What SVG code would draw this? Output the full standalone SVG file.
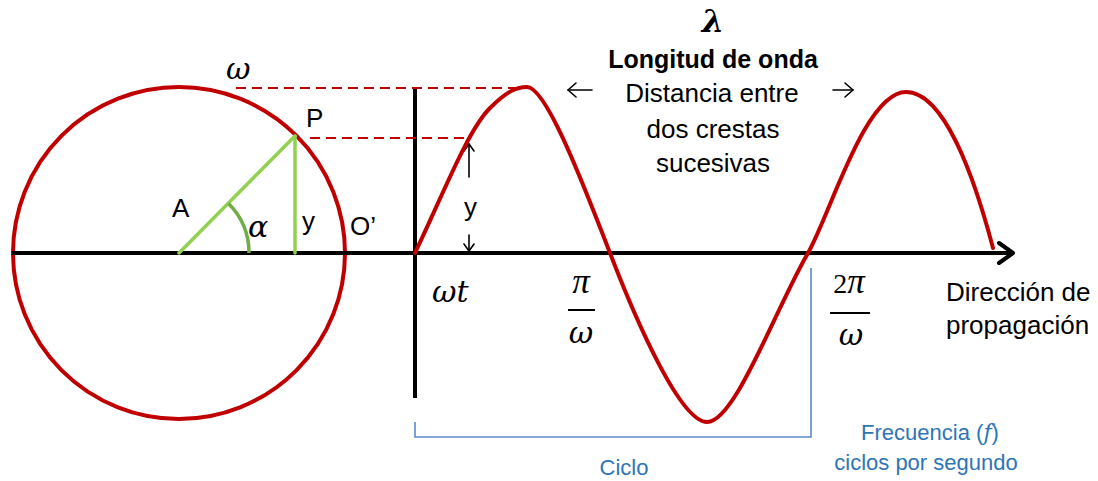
<svg xmlns="http://www.w3.org/2000/svg" width="1098" height="481" viewBox="0 0 1098 481">
<defs>
<style>
.t{font-family:"Liberation Sans",Arial,sans-serif;font-size:26px;fill:#000}
.b{font-family:"Liberation Sans",Arial,sans-serif;font-size:25px;font-weight:bold;fill:#000}
.m{font-family:"DejaVu Serif","Liberation Serif",serif;font-style:italic;font-size:30px;fill:#000}
.pi{font-family:"Liberation Serif",serif;font-style:italic;font-size:35px}
.bl{font-family:"Liberation Sans",Arial,sans-serif;font-size:22px;fill:#2E75B6}
.red{fill:none;stroke:#C00000;stroke-width:4;stroke-linecap:round;stroke-linejoin:round}
.dash{fill:none;stroke:#C00000;stroke-width:2;stroke-dasharray:10 6}
.ax{fill:none;stroke:#000;stroke-width:4}
.thin{fill:none;stroke:#000;stroke-width:1.6;stroke-linecap:round;stroke-linejoin:round}
.grn{fill:none;stroke:#92D050;stroke-width:3.5;stroke-linecap:round}
.blue{fill:none;stroke:#5B8BC9;stroke-width:1.6}
</style>
</defs>
<rect width="1098" height="481" fill="#fff"/>
<g id="circle">
<circle cx="179" cy="253" r="166" class="red" stroke-width="3.5"/>
</g>
<g id="connectors">
<line x1="12" y1="253" x2="1012" y2="253" class="ax"/>
<path d="M999,243 L1013,253 L999,263" class="ax" stroke-linecap="round" stroke-linejoin="round"/>
<line x1="415" y1="88" x2="415" y2="398" class="ax" stroke-width="5"/>
<line x1="236" y1="88" x2="525" y2="88" class="dash"/>
<line x1="310" y1="138" x2="470" y2="138" class="dash"/>
<line x1="469" y1="177" x2="469" y2="144" class="thin"/>
<path d="M464,151 L469,144 L474,151" class="thin"/>
<line x1="469" y1="235" x2="469" y2="251" class="thin"/>
<path d="M464,244 L469,251 L474,244" class="thin"/>
<line x1="568" y1="90" x2="592" y2="90" class="thin" stroke-width="2"/>
<path d="M576,83 L568,90 L576,97" class="thin" stroke-width="2"/>
<line x1="833" y1="90" x2="853" y2="90" class="thin" stroke-width="2"/>
<path d="M845,83 L853,90 L845,97" class="thin" stroke-width="2"/>
<path d="M415,422 L415,437 L811,437 L811,268" class="blue"/>
</g>
<g id="triangle">
<line x1="179" y1="253" x2="295" y2="136" class="grn"/>
<line x1="295" y1="136" x2="295" y2="253" class="grn"/>
<path d="M228.5,203.5 A70,70 0 0 1 249,253" fill="none" stroke="#70AD47" stroke-width="3.5"/>
</g>
<g id="wave">
<path class="red" d="M415,253 C445,190 468,130 490,108 C505,93 515,87 527,87 C545,87 578,170 610,253 C635,318 680,422 707,422 C735,422 775,310 808,253 C830,215 865,92 906,92 C945,92 975,180 993,248"/>
</g>
<g id="labels">
<text x="226" y="79" class="m">ω</text>
<text x="306" y="127" class="t">P</text>
<text x="172" y="217" class="t">A</text>
<text x="248" y="237" class="m">α</text>
<text x="302" y="230" class="t">y</text>
<text x="350" y="235" class="t">O’</text>
<text x="464" y="216" class="t">y</text>
<text x="432" y="302" class="m">ωt</text>
<text x="581" y="293" class="pi" text-anchor="middle">π</text>
<line x1="568" y1="310" x2="595" y2="310" stroke="#000" stroke-width="2"/>
<text x="581" y="343" class="m" text-anchor="middle">ω</text>
<text x="849" y="293" class="pi" text-anchor="middle"><tspan font-style="normal" font-size="28">2</tspan>π</text>
<line x1="830" y1="313" x2="870" y2="313" stroke="#000" stroke-width="2"/>
<text x="851" y="345" class="m" text-anchor="middle">ω</text>
<text x="713" y="32" font-family="'DejaVu Serif',serif" font-style="italic" font-weight="bold" font-size="32" text-anchor="middle">λ</text>
<text x="713" y="68" class="b" text-anchor="middle">Longitud de onda</text>
<text x="712" y="102" class="t" text-anchor="middle">Distancia entre</text>
<text x="713" y="138" class="t" text-anchor="middle">dos crestas</text>
<text x="713" y="172" class="t" text-anchor="middle">sucesivas</text>
<text x="946" y="301" class="t">Dirección de</text>
<text x="946" y="334" class="t">propagación</text>
<text x="930" y="440" class="bl" text-anchor="middle">Frecuencia (<tspan font-family="'DejaVu Serif',serif" font-style="italic">f</tspan>)</text>
<text x="926" y="470" class="bl" text-anchor="middle">ciclos por segundo</text>
<text x="624" y="475" class="bl" text-anchor="middle">Ciclo</text>
</g>
</svg>
